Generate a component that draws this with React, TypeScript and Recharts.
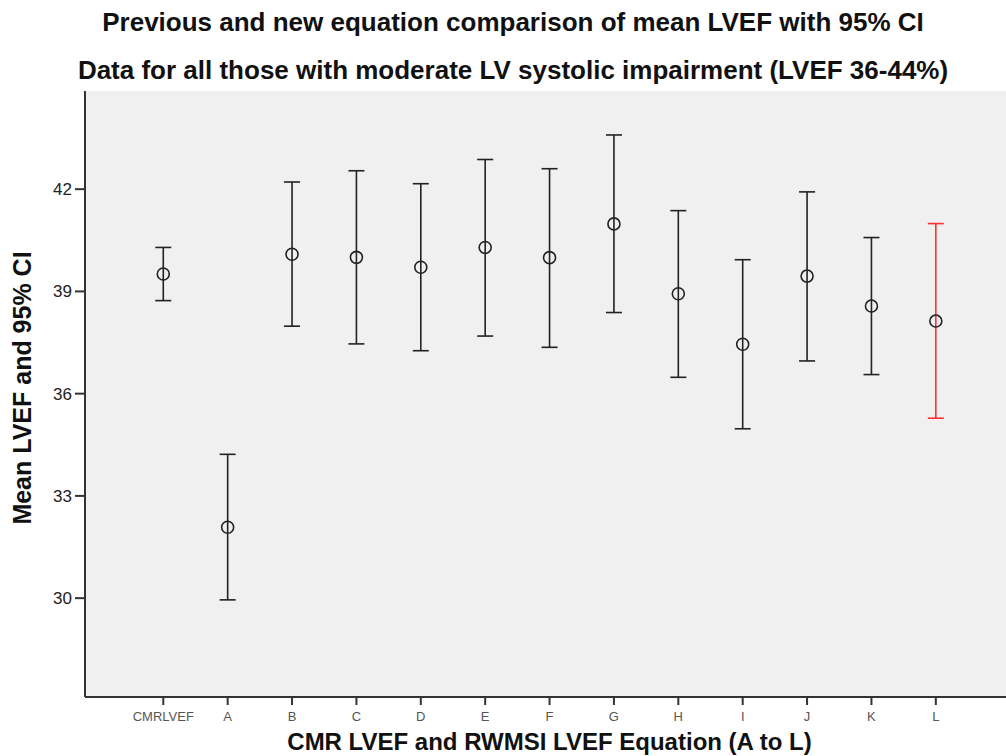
import { ScatterChart, Scatter, XAxis, YAxis, ErrorBar, CartesianGrid } from 'recharts';

const CATEGORIES = ['CMRLVEF', 'A', 'B', 'C', 'D', 'E', 'F', 'G', 'H', 'I', 'J', 'K', 'L'];
const MEANS = [39.51, 32.08, 40.09, 40.0, 39.71, 40.29, 39.99, 40.98, 38.93, 37.45, 39.45, 38.57, 38.13];
const LOWER = [38.73, 29.95, 37.98, 37.46, 37.26, 37.69, 37.36, 38.38, 36.48, 34.97, 36.96, 36.56, 35.28];
const UPPER = [40.29, 34.22, 42.21, 42.54, 42.16, 42.87, 42.6, 43.59, 41.37, 39.93, 41.92, 40.58, 40.99];
const Y_TICKS = [30, 33, 36, 39, 42];

const rows = CATEGORIES.map((name, i) => ({
  idx: i,
  name,
  mean: MEANS[i],
  err: [MEANS[i] - LOWER[i], UPPER[i] - MEANS[i]],
}));
const black = rows.filter((r) => r.name !== 'L');
const red = rows.filter((r) => r.name === 'L');

const Ring = (props: any) => (
  <circle cx={props.cx} cy={props.cy} r={6} fill="none" stroke="#222" strokeWidth={1.6} />
);

const titleStyle = {
  position: 'absolute' as const,
  left: 10,
  width: 1006,
  textAlign: 'center' as const,
  fontSize: 26,
  lineHeight: '30px',
  fontWeight: 'bold' as const,
  color: '#111',
};

export default function App() {
  return (
    <div style={{ position: 'absolute', left: 0, top: 0, width: 1006, height: 756, background: '#fff', fontFamily: '"Liberation Sans", Arial, sans-serif' }}>
      <div style={{ ...titleStyle, top: 7 }}>
        Previous and new equation comparison of mean LVEF with 95% CI
      </div>
      <div style={{ ...titleStyle, top: 55 }}>
        Data for all those with moderate LV systolic impairment (LVEF 36-44%)
      </div>
      <div style={{ position: 'absolute', left: 0, top: 0 }}>
        <ScatterChart width={1006} height={756} margin={{ top: 91, right: 0, bottom: 0, left: 0 }}>
          <CartesianGrid fill="#f0f0f0" horizontal={false} vertical={false} />
          <XAxis
            type="number"
            dataKey="idx"
            domain={[-1.216, 13.09]}
            allowDataOverflow
            ticks={CATEGORIES.map((_, i) => i)}
            tickFormatter={(v: number) => CATEGORIES[v] ?? ''}
            interval={0}
            height={59}
            tickSize={8}
            tickMargin={7}
            axisLine={{ stroke: '#333', strokeWidth: 2 }}
            tickLine={{ stroke: '#333', strokeWidth: 2 }}
            tick={{ fontSize: 13, fill: '#555' }}
            label={{ value: 'CMR LVEF and RWMSI LVEF Equation (A to L)', position: 'insideBottom', offset: 6, dx: 4, style: { fontSize: 24, fontWeight: 'bold', fill: '#111' } }}
          />
          <XAxis xAxisId="top" orientation="top" type="number" dataKey="idx" domain={[-1.216, 13.09]} allowDataOverflow tick={false} tickLine={false} height={0} axisLine={{ stroke: '#555', strokeWidth: 1.5 }} />
          <YAxis
            type="number"
            dataKey="mean"
            domain={[27.1, 44.88]}
            allowDataOverflow
            ticks={Y_TICKS}
            width={85}
            tickSize={10}
            tickMargin={3}
            axisLine={{ stroke: '#333', strokeWidth: 2 }}
            tickLine={{ stroke: '#333', strokeWidth: 2 }}
            tick={{ fontSize: 17, fill: '#222' }}
            label={{ value: 'Mean LVEF and 95% CI', angle: -90, position: 'insideLeft', offset: 22, dy: -6, style: { textAnchor: 'middle', fontSize: 25, fontWeight: 'bold', fill: '#111' } }}
          />
          <Scatter data={black} shape={Ring} isAnimationActive={false}>
            <ErrorBar dataKey="err" direction="y" width={8} stroke="#222" strokeWidth={1.6} isAnimationActive={false} />
          </Scatter>
          <Scatter data={red} shape={Ring} isAnimationActive={false}>
            <ErrorBar dataKey="err" direction="y" width={8} stroke="#ff3030" strokeWidth={1.6} isAnimationActive={false} />
          </Scatter>
        </ScatterChart>
      </div>
    </div>
  );
}
